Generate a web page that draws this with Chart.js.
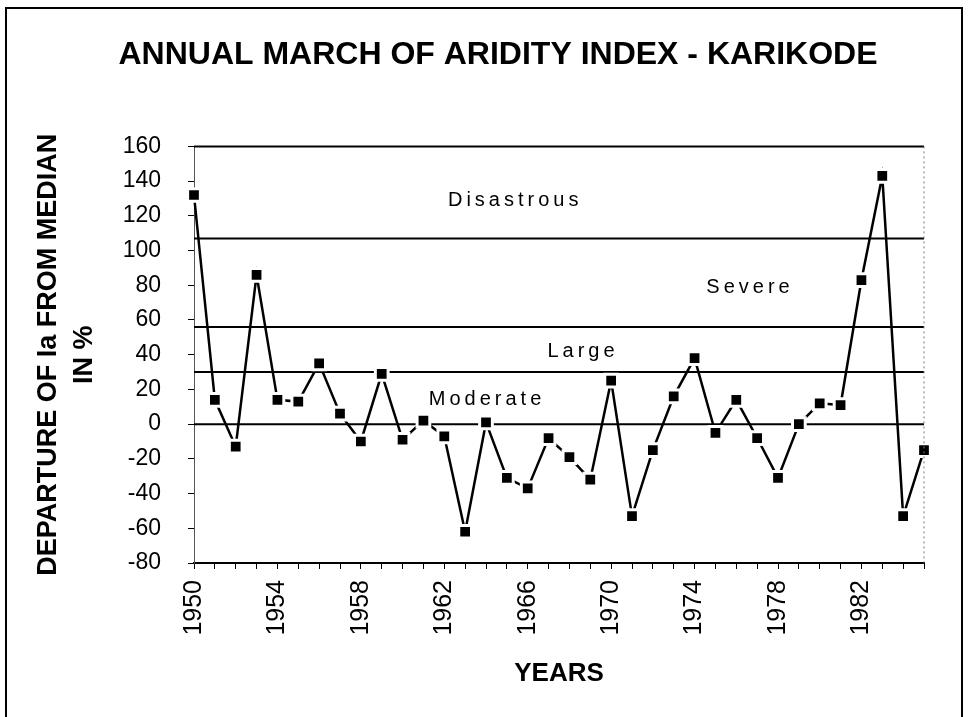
<!DOCTYPE html>
<html>
<head>
<meta charset="utf-8">
<title>Annual March of Aridity Index - Karikode</title>
<script src="https://cdn.jsdelivr.net/npm/chart.js@4.4.1/dist/chart.umd.min.js"></script>
<style>
  html, body { margin: 0; padding: 0; background: #fff; }
  #wrap { position: relative; width: 972px; height: 717px; overflow: hidden; }
  #frame {
    position: absolute; left: 5px; top: 7px; width: 958px; height: 740px;
    border: 2px solid #000; box-sizing: border-box;
  }
  #chart { position: absolute; left: 0; top: 0; }
</style>
</head>
<body>
<div id="wrap">
  <div id="frame"></div>
  <canvas id="chart" width="972" height="717"></canvas>
</div>
<script>
// Years on the horizontal axis (one point per year)
const years = [
  1950, 1951, 1952, 1953, 1954, 1955, 1956, 1957, 1958, 1959,
  1960, 1961, 1962, 1963, 1964, 1965, 1966, 1967, 1968, 1969,
  1970, 1971, 1972, 1973, 1974, 1975, 1976, 1977, 1978, 1979,
  1980, 1981, 1982, 1983, 1984, 1985
];

// Departure of the aridity index (Ia) from its median, in %
const departure = [
  132, 14, -13, 86, 14, 13, 35, 6, -10, 29,
  -9, 2, -7, -62, 1, -31, -37, -8, -19, -32,
  25, -53, -15, 16, 38, -5, 14, -8, -31, 0,
  12, 11, 83, 143, -53, -15
];

// Drought class boundaries (%)
const thresholds = [0, 30, 56, 107];

// Drought class names
const classNames = ['Moderate', 'Large', 'Severe', 'Disastrous'];

// Value-axis ticks
const yTicks = [-80, -60, -40, -20, 0, 20, 40, 60, 80, 100, 120, 140, 160];

const FONT = '"Liberation Sans", Arial, Helvetica, sans-serif';

// Where each class name sits: [category index, value]
const classAnchors = {
  Moderate:   [14.05, 14],
  Large:      [18.65, 42],
  Severe:     [26.66, 79],
  Disastrous: [15.4, 129]
};

// Frame lines along the top and right edges of the plot, plus class names
const plotDecor = {
  id: 'plotDecor',
  afterDatasetsDraw(chart) {
    const { ctx, chartArea: a, scales } = chart;
    ctx.save();
    // top edge
    ctx.strokeStyle = '#000';
    ctx.lineWidth = 2;
    ctx.beginPath();
    ctx.moveTo(a.left, a.top);
    ctx.lineTo(a.right, a.top);
    ctx.stroke();
    // right edge, dotted
    ctx.strokeStyle = '#777';
    ctx.lineWidth = 1;
    ctx.setLineDash([2, 3]);
    ctx.beginPath();
    ctx.moveTo(a.right, a.top);
    ctx.lineTo(a.right, a.bottom);
    ctx.stroke();
    ctx.setLineDash([]);
    // class names
    ctx.fillStyle = '#000';
    ctx.font = '20px ' + FONT;
    ctx.textAlign = 'center';
    ctx.textBaseline = 'middle';
    if ('letterSpacing' in ctx) ctx.letterSpacing = '4px';
    classNames.forEach(name => {
      const [ix, v] = classAnchors[name];
      const x = scales.x.getPixelForValue(ix);
      const y = scales.y.getPixelForValue(v);
      ctx.fillText(name, x, y);
    });
    ctx.restore();
  }
};

const thresholdSets = thresholds.map(t => ({
  data: years.map(() => t),
  borderColor: '#000',
  borderWidth: 2,
  pointRadius: 0,
  fill: false,
  order: 2
}));

new Chart(document.getElementById('chart'), {
  type: 'line',
  data: {
    labels: years.map(String),
    datasets: [
      {
        data: departure,
        borderColor: '#000',
        borderWidth: 2.5,
        pointStyle: 'rect',
        pointRadius: 9,
        pointBackgroundColor: '#000',
        pointBorderColor: '#fff',
        pointBorderWidth: 3,
        tension: 0,
        fill: false,
        order: 1
      },
      ...thresholdSets
    ]
  },
  options: {
    responsive: false,
    animation: false,
    devicePixelRatio: 1,
    layout: { padding: { left: 24, right: 0, top: 0, bottom: 0 } },
    plugins: {
      legend: { display: false },
      tooltip: { enabled: false },
      title: {
        display: true,
        text: 'ANNUAL MARCH OF ARIDITY INDEX - KARIKODE',
        color: '#000',
        font: { family: FONT, size: 32, weight: 'bold', lineHeight: 1.2 },
        padding: { top: 36, bottom: 72 }
      }
    },
    scales: {
      x: {
        type: 'category',
        offset: false,
        grid: {
          display: true,
          drawOnChartArea: false,
          drawTicks: true,
          tickLength: 6,
          color: '#000',
          lineWidth: 1
        },
        border: { display: true, color: '#000', width: 2 },
        ticks: {
          autoSkip: false,
          minRotation: 90,
          maxRotation: 90,
          padding: 11,
          color: '#000',
          font: { family: FONT, size: 25 },
          callback(value, index) {
            return (years[index] - years[0]) % 4 === 0 ? String(years[index]) : '';
          }
        },
        title: {
          display: true,
          text: 'YEARS',
          color: '#000',
          font: { family: FONT, size: 26, weight: 'bold', lineHeight: 1.2 },
          padding: { top: 0, bottom: 28 }
        },
        afterFit(scale) { scale.height = 154; }
      },
      y: {
        min: yTicks[0],
        max: yTicks[yTicks.length - 1],
        afterBuildTicks(scale) { scale.ticks = yTicks.map(v => ({ value: v })); },
        grid: {
          display: true,
          drawOnChartArea: false,
          drawTicks: true,
          tickLength: 6,
          color: '#000',
          lineWidth: 1
        },
        border: { display: true, color: '#555', width: 1, dash: [2, 2] },
        ticks: {
          padding: 27,
          color: '#000',
          font: { family: FONT, size: 23 }
        },
        title: {
          display: true,
          text: ['DEPARTURE OF Ia FROM MEDIAN', 'IN %'],
          color: '#000',
          font: { family: FONT, size: 27, weight: 'bold', lineHeight: 1.333 },
          padding: { top: 7, bottom: 0 }
        },
        afterFit(scale) { scale.width = 170; }
      },
      yRight: {
        position: 'right',
        min: yTicks[0],
        max: yTicks[yTicks.length - 1],
        grid: { display: false },
        border: { display: false },
        ticks: { display: false },
        afterFit(scale) { scale.width = 48; }
      }
    }
  },
  plugins: [plotDecor]
});
</script>
</body>
</html>
